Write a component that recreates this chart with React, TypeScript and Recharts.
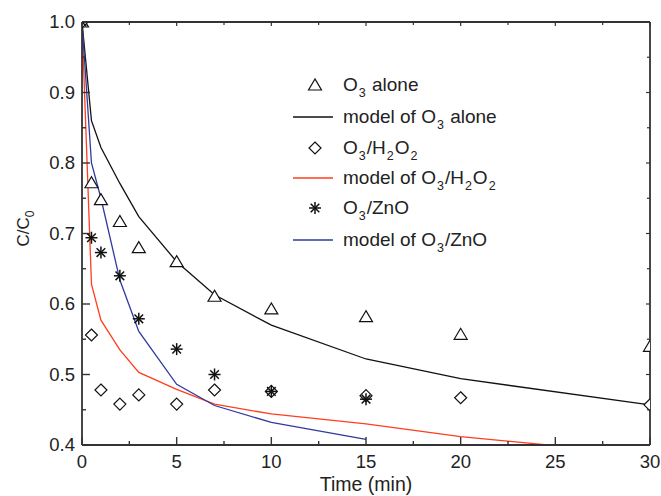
import React from "react";
import { ComposedChart, Line, Scatter, XAxis, YAxis } from "recharts";

// measured points
const timeObs = [0, 0.5, 1, 2, 3, 5, 7, 10, 15, 20, 30];
const o3Alone = [1.0, 0.772, 0.748, 0.717, 0.68, 0.66, 0.611, 0.593, 0.582, 0.557, 0.54];
const o3H2O2 = [1.0, 0.556, 0.478, 0.458, 0.471, 0.458, 0.478, 0.476, 0.47, 0.467, 0.457];
const timeZnO = [0, 0.5, 1, 2, 3, 5, 7, 10, 15];
const o3ZnO = [1.0, 0.694, 0.673, 0.64, 0.579, 0.536, 0.5, 0.476, 0.465];

// model curves
const timeModelO3 = [0, 0.5, 1, 2, 3, 5, 7, 10, 15, 20, 30];
const modelO3 = [1.0, 0.86, 0.822, 0.771, 0.724, 0.66, 0.613, 0.57, 0.522, 0.494, 0.457];
const timeModelH2O2 = [0, 0.5, 1, 2, 3, 5, 7, 10, 15, 20, 25, 30];
const modelH2O2 = [1.0, 0.628, 0.577, 0.535, 0.503, 0.479, 0.458, 0.444, 0.43, 0.412, 0.399, 0.386];
const timeModelZnO = [0, 0.5, 1, 2, 3, 5, 7, 10, 15];
const modelZnO = [1.0, 0.8, 0.75, 0.634, 0.561, 0.486, 0.456, 0.432, 0.408];

const xTicks = [0, 2.5, 5, 7.5, 10, 12.5, 15, 17.5, 20, 22.5, 25, 27.5, 30];
const yTicks = [0.4, 0.45, 0.5, 0.55, 0.6, 0.65, 0.7, 0.75, 0.8, 0.85, 0.9, 0.95, 1.0];

const zip = (ts: number[], vs: number[]) => ts.map((t, i) => ({ t, v: vs[i] }));

const ink = "#333";
const red = "#ff3d1f";
const blue = "#2e3b9e";
const font = "'Liberation Sans', Arial, sans-serif";

// chart layout
const W = 661;
const H = 496;
const margin = { top: 21, right: 10, bottom: 1, left: 0 };
const leftW = 82;
const rightW = 1;
const topH = 1;
const bottomH = 50;
const plot = {
  x: margin.left + leftW,
  y: margin.top + topH,
  width: W - margin.left - margin.right - leftW - rightW,
  height: H - margin.top - margin.bottom - topH - bottomH,
};

const isMajorX = (v: number) => v % 5 === 0;
const isMajorY = (v: number) => Math.round(v * 100) % 10 === 0;

function BottomTick({ x, y, payload }: any) {
  const major = isMajorX(payload.value);
  return (
    <g>
      <line x1={x} y1={y} x2={x} y2={y - (major ? 8 : 4)} stroke={ink} strokeWidth={1.4} />
      {major && (
        <text x={x} y={y + 23} textAnchor="middle" fontSize={18.5} fill="#222" fontFamily={font}>
          {payload.value}
        </text>
      )}
    </g>
  );
}

function LeftTick({ x, y, payload }: any) {
  const major = isMajorY(payload.value);
  return (
    <g>
      <line x1={x} y1={y} x2={x + (major ? 8 : 4)} y2={y} stroke={ink} strokeWidth={1.4} />
      {major && (
        <text x={x - 7} y={y + 6} textAnchor="end" fontSize={18.5} fill="#222" fontFamily={font}>
          {payload.value.toFixed(1)}
        </text>
      )}
    </g>
  );
}

function TopTick({ x, y, payload }: any) {
  const len = isMajorX(payload.value) ? 4 : 3;
  return <line x1={x} y1={y} x2={x} y2={y + len} stroke={ink} strokeWidth={1.2} />;
}

function RightTick({ x, y, payload }: any) {
  const len = isMajorY(payload.value) ? 4 : 3;
  return <line x1={x} y1={y} x2={x - len} y2={y} stroke={ink} strokeWidth={1.2} />;
}

function Triangle({ cx, cy }: any) {
  return (
    <polygon
      points={`${cx},${cy - 6} ${cx - 6.5},${cy + 5} ${cx + 6.5},${cy + 5}`}
      fill="#fff"
      stroke="#111"
      strokeWidth={1.2}
    />
  );
}

function Diamond({ cx, cy }: any) {
  return (
    <polygon
      points={`${cx},${cy - 6} ${cx + 6},${cy} ${cx},${cy + 6} ${cx - 6},${cy}`}
      fill="#fff"
      stroke="#111"
      strokeWidth={1.2}
    />
  );
}

function Star({ cx, cy }: any) {
  const r = 6;
  const d = r * 0.72;
  return (
    <g stroke="#111" strokeWidth={1.5}>
      <line x1={cx - r} y1={cy} x2={cx + r} y2={cy} />
      <line x1={cx} y1={cy - r} x2={cx} y2={cy + r} />
      <line x1={cx - d} y1={cy - d} x2={cx + d} y2={cy + d} />
      <line x1={cx - d} y1={cy + d} x2={cx + d} y2={cy - d} />
    </g>
  );
}

// nested svg viewport = plot area, so markers on the frame get cut like the original
function Clipped({ children }: any) {
  return (
    <svg
      x={plot.x}
      y={plot.y}
      width={plot.width}
      height={plot.height}
      viewBox={`${plot.x} ${plot.y} ${plot.width} ${plot.height}`}
      overflow="hidden"
    >
      {children}
    </svg>
  );
}

const sub = (s: string) => (
  <sub style={{ fontSize: 12.5, verticalAlign: "-6px", lineHeight: 0, margin: "0 1px" }}>{s}</sub>
);

const legendItems = [
  { kind: "tri", label: <>O{sub("3")} alone</> },
  { kind: "line", color: "#111", label: <>model of O{sub("3")} alone</> },
  { kind: "dia", label: <>O{sub("3")}/H{sub("2")}O{sub("2")}</> },
  { kind: "line", color: red, label: <>model of O{sub("3")}/H{sub("2")}O{sub("2")}</> },
  { kind: "star", label: <>O{sub("3")}/ZnO</> },
  { kind: "line", color: blue, label: <>model of O{sub("3")}/ZnO</> },
];
const legendRows = [85, 117, 148, 178, 208, 240];

function LegendBox() {
  return (
    <div style={{ position: "absolute", left: 290, top: 0, fontFamily: font, color: "#222" }}>
      {legendItems.map((item, i) => (
        <div
          key={i}
          style={{
            position: "absolute",
            top: legendRows[i] - 15,
            left: 0,
            height: 30,
            display: "flex",
            alignItems: "center",
            whiteSpace: "nowrap",
            fontSize: 19,
            lineHeight: "30px",
          }}
        >
          <svg width={53} height={30}>
            {item.kind === "line" && (
              <line x1={3} y1={15} x2={43} y2={15} stroke={item.color} strokeWidth={1.4} />
            )}
            {item.kind === "tri" && <Triangle cx={25} cy={15} />}
            {item.kind === "dia" && <Diamond cx={25} cy={15} />}
            {item.kind === "star" && <Star cx={25} cy={15} />}
          </svg>
          <span>{item.label}</span>
        </div>
      ))}
    </div>
  );
}

export default function App() {
  return (
    <div style={{ position: "absolute", left: 0, top: 0, width: W, height: H, background: "#fff" }}>
      <ComposedChart width={W} height={H} margin={margin}>
        <XAxis
          xAxisId="b"
          type="number"
          dataKey="t"
          domain={[0, 30]}
          allowDataOverflow
          ticks={xTicks}
          tick={<BottomTick />}
          tickLine={false}
          tickSize={0}
          tickMargin={0}
          interval={0}
          height={bottomH}
          axisLine={{ stroke: ink, strokeWidth: 1.8 }}
          label={{
            content: ({ viewBox }: any) => (
              <text
                x={viewBox.x + viewBox.width / 2}
                y={viewBox.y + 46}
                textAnchor="middle"
                fontSize={19.5}
                fill="#222"
                fontFamily={font}
              >
                Time (min)
              </text>
            ),
          }}
        />
        <XAxis
          xAxisId="top"
          orientation="top"
          type="number"
          dataKey="t"
          domain={[0, 30]}
          allowDataOverflow
          ticks={xTicks}
          tick={<TopTick />}
          tickLine={false}
          tickSize={0}
          tickMargin={0}
          interval={0}
          height={topH}
          axisLine={{ stroke: ink, strokeWidth: 1.8 }}
        />
        <YAxis
          yAxisId="l"
          type="number"
          dataKey="v"
          domain={[0.4, 1.0]}
          allowDataOverflow
          ticks={yTicks}
          tick={<LeftTick />}
          tickLine={false}
          tickSize={0}
          tickMargin={0}
          interval={0}
          width={leftW}
          axisLine={{ stroke: ink, strokeWidth: 1.8 }}
          label={{
            content: ({ viewBox }: any) => (
              <text
                transform={`translate(29, ${viewBox.y + viewBox.height / 2 - 5}) rotate(-90)`}
                textAnchor="middle"
                fontSize={17}
                fill="#222"
                fontFamily={font}
              >
                <tspan>C/C</tspan>
                <tspan fontSize={12} dy={5}>0</tspan>
              </text>
            ),
          }}
        />
        <YAxis
          yAxisId="r"
          orientation="right"
          type="number"
          dataKey="v"
          domain={[0.4, 1.0]}
          allowDataOverflow
          ticks={yTicks}
          tick={<RightTick />}
          tickLine={false}
          tickSize={0}
          tickMargin={0}
          interval={0}
          width={rightW}
          axisLine={{ stroke: ink, strokeWidth: 1.8 }}
        />

        <Line
          xAxisId="b"
          yAxisId="l"
          data={zip(timeModelO3, modelO3)}
          dataKey="v"
          stroke="#111"
          strokeWidth={1.3}
          dot={false}
          isAnimationActive={false}
        />
        <Line
          xAxisId="b"
          yAxisId="l"
          data={zip(timeModelH2O2, modelH2O2)}
          dataKey="v"
          stroke={red}
          strokeWidth={1.3}
          dot={false}
          isAnimationActive={false}
        />
        <Line
          xAxisId="b"
          yAxisId="l"
          data={zip(timeModelZnO, modelZnO)}
          dataKey="v"
          stroke={blue}
          strokeWidth={1.3}
          dot={false}
          isAnimationActive={false}
        />
        <Scatter
          xAxisId="b"
          yAxisId="l"
          data={zip(timeObs, o3Alone)}
          dataKey="v"
          shape={(p: any) => (
            <Clipped>
              <Triangle cx={p.cx} cy={p.cy} />
            </Clipped>
          )}
          isAnimationActive={false}
        />
        <Scatter
          xAxisId="b"
          yAxisId="l"
          data={zip(timeObs, o3H2O2)}
          dataKey="v"
          shape={(p: any) => (
            <Clipped>
              <Diamond cx={p.cx} cy={p.cy} />
            </Clipped>
          )}
          isAnimationActive={false}
        />
        <Scatter
          xAxisId="b"
          yAxisId="l"
          data={zip(timeZnO, o3ZnO)}
          dataKey="v"
          shape={(p: any) => (
            <Clipped>
              <Star cx={p.cx} cy={p.cy} />
            </Clipped>
          )}
          isAnimationActive={false}
        />
      </ComposedChart>
      <LegendBox />
    </div>
  );
}
